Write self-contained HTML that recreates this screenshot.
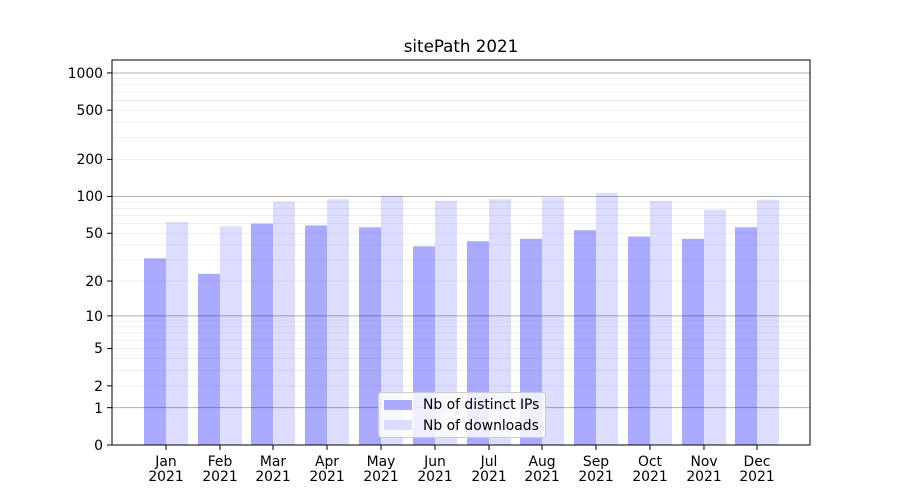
<!DOCTYPE html>
<html><head><meta charset="utf-8"><style>body{margin:0;background:#fff}svg{display:block;font-family:"DejaVu Sans","Liberation Sans",sans-serif}</style></head>
<body>
<svg id="s" width="900" height="500" xmlns="http://www.w3.org/2000/svg">
<rect width="900" height="500" fill="#fff"/>
<g id="grid"></g>
<g id="bars"></g>
<rect x="112" y="60" width="698" height="385" fill="none" stroke="#000" stroke-width="1"/>
<g id="ticks" stroke="#000"></g>
<g font-size="13.9" fill="#000" text-anchor="end">
<text x="103" y="78">1000</text><text x="103" y="115">500</text><text x="103" y="164">200</text>
<text x="103" y="201">100</text><text x="103" y="238">50</text><text x="103" y="286">20</text>
<text x="103" y="321">10</text><text x="103" y="353">5</text><text x="103" y="391">2</text>
<text x="103" y="413">1</text><text x="103" y="450">0</text>
</g>
<g font-size="13.9" fill="#000" text-anchor="middle">
<text x="166" y="466">Jan</text><text x="166" y="481">2021</text>
<text x="220" y="466">Feb</text><text x="220" y="481">2021</text>
<text x="273" y="466">Mar</text><text x="273" y="481">2021</text>
<text x="327" y="466">Apr</text><text x="327" y="481">2021</text>
<text x="381" y="466">May</text><text x="381" y="481">2021</text>
<text x="435" y="466">Jun</text><text x="435" y="481">2021</text>
<text x="489" y="466">Jul</text><text x="489" y="481">2021</text>
<text x="542" y="466">Aug</text><text x="542" y="481">2021</text>
<text x="596" y="466">Sep</text><text x="596" y="481">2021</text>
<text x="650" y="466">Oct</text><text x="650" y="481">2021</text>
<text x="704" y="466">Nov</text><text x="704" y="481">2021</text>
<text x="757" y="466">Dec</text><text x="757" y="481">2021</text>
</g>
<text x="461" y="52" font-size="16.7" text-anchor="middle">sitePath 2021</text>
<rect x="378.5" y="392.5" width="167" height="45" rx="3" fill="#fff" fill-opacity="0.8" stroke="#ccc"/>
<rect x="384" y="400" width="28" height="10" fill="#aaaaff"/>
<rect x="384" y="420" width="28" height="10" fill="#ddddff"/>
<text x="423" y="409" font-size="13.9">Nb of distinct IPs</text>
<text x="423" y="430" font-size="13.9">Nb of downloads</text>
<script>
var ns="http://www.w3.org/2000/svg";
function Y(v){return 445-124*Math.log10(1+v);}
function el(p,t,a){var e=document.createElementNS(ns,t);for(var k in a)e.setAttribute(k,a[k]);document.getElementById(p).appendChild(e);}
[1,10,100,1000].forEach(function(d){for(var m=1;m<10;m++){var v=d*m;if(v>1000)break;var y=Y(v);
var major=(m==1);el("grid","line",{x1:112,x2:810,y1:y,y2:y,stroke:major?"#b0b0b0":"#ebebeb","stroke-width":major?1:0.8});}});
var c=[166,220,273,327,381,435,489,542,596,650,704,757];
var a=[31,23,60,58,56,39,43,45,53,47,45,56];
var b=[62,57,91,95,101,92,95,98,107,92,78,94];
c.forEach(function(x,i){el("bars","rect",{x:x-22,y:Y(a[i]),width:22,height:445-Y(a[i]),fill:"#0000ff","fill-opacity":0.333});
el("bars","rect",{x:x,y:Y(b[i]),width:22,height:445-Y(b[i]),fill:"#0000ff","fill-opacity":0.135});
el("ticks","line",{x1:x,x2:x,y1:445,y2:450});});
[0,1,2,5,10,20,50,100,200,500,1000].forEach(function(v){var y=Y(v);el("ticks","line",{x1:107,x2:112,y1:y,y2:y});});
</script>
</svg>
</body></html>
